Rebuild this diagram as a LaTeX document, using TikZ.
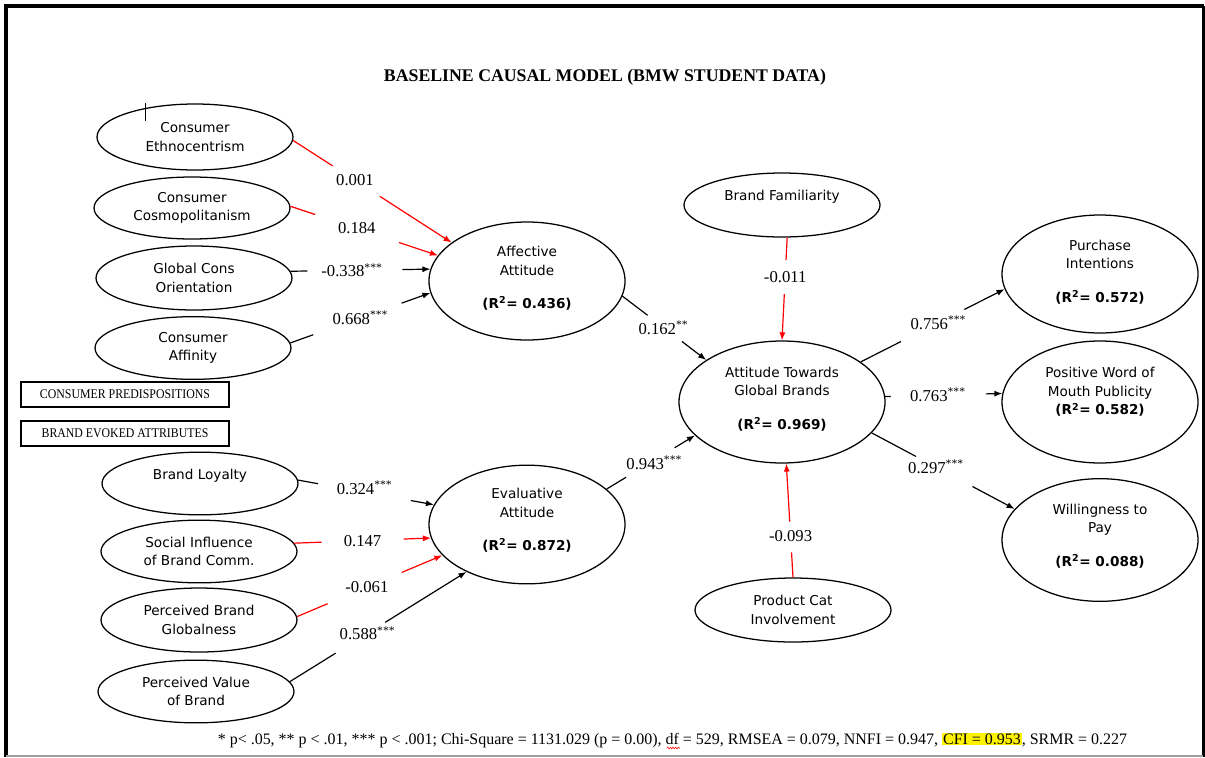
\documentclass[tikz,border=0pt]{standalone}
\usepackage{fontspec}
\usepackage{graphicx}
\setmainfont{Liberation Serif}
\newfontfamily\ellfont{DejaVu Sans}
\usetikzlibrary{shapes.geometric,arrows.meta,decorations.pathmorphing}

\tikzset{
  ell/.style={ellipse, draw, line width=0.95pt, minimum width=147pt,
    minimum height=#1, inner sep=0pt, align=center,
    font=\ellfont\fontsize{10.2}{14}\selectfont},
  etxt/.style={align=center, inner sep=0pt,
    font=\ellfont\fontsize{10.2}{14}\selectfont},
  lbl/.style={inner sep=0pt, font=\fontsize{12.5}{14}\selectfont},
  conn/.style={line width=0.9pt},
  tagbox/.style={draw, line width=0.8pt, minimum width=156pt,
    minimum height=18.75pt, inner sep=0pt},
  tip/.style={-{Latex[length=6pt,width=4.6pt]}},
  spell/.style={red, line width=0.4pt, decorate,
    decoration={zigzag, amplitude=0.7pt, segment length=2pt}}
}

% a path from #2 to #3, broken between pos #4 and #5 where its label sits
\newcommand\link[8]{%
  \path (#2) -- (#3) coordinate[pos=#4] (#7-a) coordinate[pos=#5] (#7-b)
        node[lbl,#6] (#7) {#8};
  \draw[conn,#1] (#2) -- (#7-a);
  \draw[conn,#1,tip] (#7-b) -- (#3);
}
\newcommand\Rsq[1]{\textbf{(R\textsuperscript{2}= #1)}}
\newcommand\stars[1]{\textsuperscript{#1}}

\begin{document}
\begin{tikzpicture}[x=0.75pt,y=-0.75pt]
\useasboundingbox (0,0) rectangle (1205,757);

% frame
\draw[line width=3pt] (6,757) -- (6,6) -- (1203.5,6);
\draw[line width=2.4pt] (1203.5,6) -- (1203.5,757);
\draw[gray!75, line width=1.4pt] (6,756) -- (1203,756);

% title
\node (title) at (605,77) {\resizebox{331.5pt}{!}{\bfseries BASELINE CAUSAL MODEL (BMW STUDENT DATA)}};

% consumer predispositions
\node[ell=49.5pt] (ce)  at (195,137) {Consumer\\Ethnocentrism};
\node[ell=46.5pt] (cc)  at (192,208) {Consumer\\Cosmopolitanism};
\node[ell=48pt]   (gco) at (194,278) {Global Cons\\Orientation};
\node[ell=47pt]   (ca)  at (193,348) {Consumer\\Affinity};

\node[tagbox] (cp)  at (125,394.5) {\resizebox{127.5pt}{6.6pt}{CONSUMER PREDISPOSITIONS}};
\node[tagbox] (bea) at (125,433.5) {\resizebox{125pt}{6.6pt}{BRAND EVOKED ATTRIBUTES}};

% brand evoked attributes
\node[ell=47pt] (bl)  at (200,483.5) {};
\node[etxt] (bl-t) at (200,476) {Brand Loyalty};
\node[ell=47pt] (si)  at (199,551.5) {Social Influence\\of Brand Comm.};
\node[ell=48pt] (pbg) at (199,620) {Perceived Brand\\Globalness};
\node[ell=47pt] (pvb) at (196,691.5) {Perceived Value\\of Brand};

% attitudes
\node[ell=88.5pt] (aa) at (527,281) {};
\node[etxt] (aa-t) at (527,278.5) {Affective\\Attitude\\[11pt]\Rsq{0.436}};
\node[ell=89pt] (ea) at (527,524.5) {};
\node[etxt] (ea-t) at (527,520.5) {Evaluative\\Attitude\\[11pt]\Rsq{0.872}};

\node[ell=91.5pt, minimum width=154.5pt] (atgb) at (782,402) {};
\node[etxt] (atgb-t) at (782,399) {Attitude Towards\\Global Brands\\[11pt]\Rsq{0.969}};

\node[ell=48pt] (bf)  at (782,205) {};
\node[etxt] (bf-t) at (782,197) {Brand Familiarity};
\node[ell=48pt] (pci) at (793,610) {Product Cat\\Involvement};

% outcomes
\node[ell=88.5pt] (pi)  at (1100,274) {};
\node[etxt] (pi-t) at (1100,272) {Purchase\\Intentions\\[11pt]\Rsq{0.572}};
\node[ell=91.5pt] (wom) at (1100,402) {};
\node[etxt] (wom-t) at (1100,392) {Positive Word of\\Mouth Publicity\\\Rsq{0.582}};
\node[ell=92pt] (wtp) at (1100,540) {};
\node[etxt] (wtp-t) at (1100,536) {Willingness to\\Pay\\[11pt]\Rsq{0.088}};

% paths into affective attitude
\link{red}{ce.-2}{aa.153}{0.25}{0.547}{pos=0.39}{l1}{0.001}
\link{red}{cc.1}{aa.164.5}{0.167}{0.736}{pos=0.45}{l2}{0.184}
\link{black}{gco.4}{aa.173.5}{0.12}{0.80}{pos=0.44}{l3}{-0.338\stars{***}}
\link{black}{ca.3}{aa.187.7}{0.163}{0.794}{pos=0.5}{l4}{0.668\stars{***}}

% paths into evaluative attitude
\link{black}{bl.2.5}{ea.168.8}{0.147}{0.83}{pos=0.49,yshift=3.5pt}{l12}{0.324\stars{***}}
\link{red}{si.5}{ea.188}{0.2}{0.8}{pos=0.5}{l13}{0.147}
\link{red}{pbg.2}{ea.200.4}{0.21}{0.72}{pos=0.48}{l14}{-0.061}
\link{black}{pvb.6}{ea.218}{0.26}{0.54}{pos=0.44}{l15}{0.588\stars{***}}

% paths into attitude towards global brands
\link{black}{aa.-9}{atgb.151}{0.30}{0.71}{pos=0.49}{l5}{0.162\stars{**}}
\link{red}{bf.-81}{atgb.90}{0.22}{0.55}{pos=0.38}{l6}{-0.011}
\link{black}{ea.24}{atgb.201}{0.22}{0.77}{pos=0.54,yshift=-2pt}{l7}{0.943\stars{***}}
\link{red}{pci.90}{atgb.-86}{0.22}{0.49}{pos=0.365}{l8}{-0.093}

% paths to outcomes
\link{black}{atgb.27}{pi.189.6}{0.28}{0.72}{pos=0.54}{l9}{0.756\stars{***}}
\link{black}{atgb.3}{wom.175}{0.047}{0.86}{pos=0.45}{l10}{0.763\stars{***}}
\link{black}{atgb.-19}{wtp.160}{0.31}{0.705}{pos=0.45}{l11}{0.297\stars{***}}

% text cursor mark
\draw[line width=0.7pt] (145,103) -- (145,121);

% fit statistics
\node (fit) at (672.5,740) {\resizebox{682pt}{!}{* p< .05, ** p < .01, *** p < .001; Chi-Square = 1131.029 (p = 0.00), df = 529, RMSEA = 0.079, NNFI = 0.947, {\setlength\fboxsep{0.6pt}\colorbox{yellow}{CFI = 0.953}}, SRMR = 0.227}};
\draw[spell] (667,748) -- (680,748);
\end{tikzpicture}
\end{document}
